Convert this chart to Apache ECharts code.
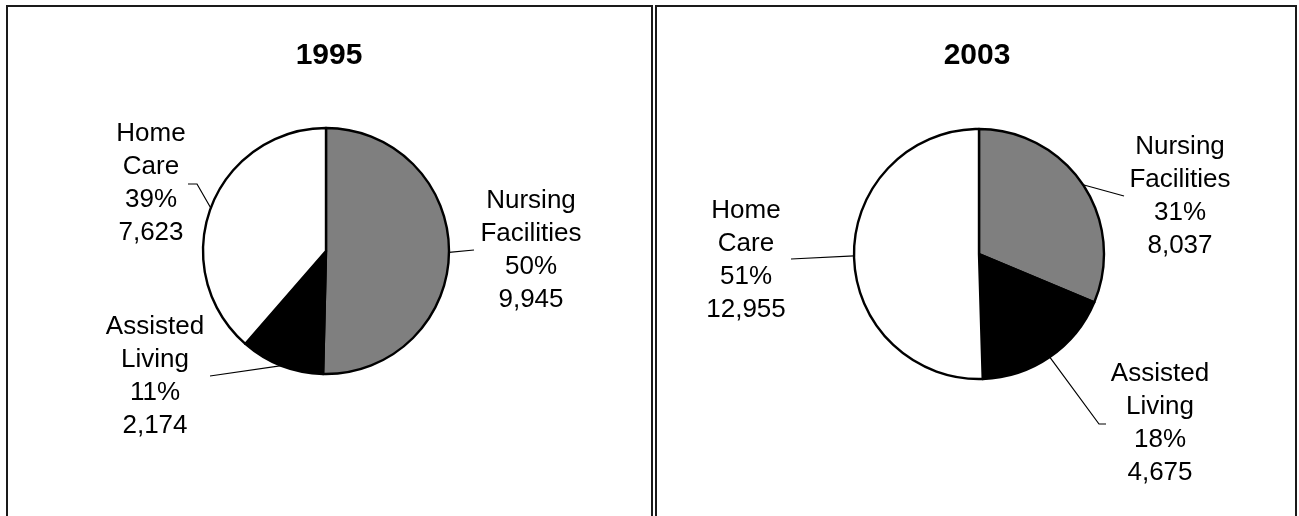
<!DOCTYPE html>
<html>
<head>
<meta charset="utf-8">
<script src="https://cdn.jsdelivr.net/npm/echarts@6/dist/echarts.min.js"></script>
<style>
  html, body { margin: 0; padding: 0; background: #ffffff; }
  #chart { width: 1299px; height: 516px; }
</style>
</head>
<body>
<div id="chart"></div>
<script>
// ---- Data ----
const titles = ['1995', '2003'];
const categories = ['Nursing\nFacilities', 'Assisted\nLiving', 'Home\nCare'];
const values1995 = [9945, 2174, 7623];
const values2003 = [8037, 4675, 12955];
const sliceColors = ['#7f7f7f', '#000000', '#ffffff'];

// ---- Layout (label placement, not data) ----
const labelPlacement = [
  [ // 1995
    { x: 531, y: 250, line: [[474, 250]] },
    { x: 155, y: 376, line: [[210, 376]] },
    { x: 151, y: 183, line: [[197, 184], [188, 184]] }
  ],
  [ // 2003
    { x: 1180, y: 196, line: [[1124, 196]] },
    { x: 1160, y: 423, line: [[1099, 424], [1106, 424]] },
    { x: 746, y: 260, line: [[791, 259]] }
  ]
];

const chart = echarts.init(document.getElementById('chart'));
const fontFamily = '"Liberation Sans", Arial, sans-serif';

function makeSeries(values, center, radius, si) {
  return {
    type: 'pie',
    center: center,
    radius: radius,
    startAngle: 90,
    clockwise: true,
    percentPrecision: 0,
    avoidLabelOverlap: false,
    animation: false,
    silent: true,
    data: categories.map((c, i) => ({
      name: c,
      value: values[i],
      itemStyle: { color: sliceColors[i] }
    })),
    itemStyle: { borderColor: '#000', borderWidth: 2.4 },
    label: {
      show: true,
      position: 'outside',
      color: '#000',
      fontFamily: fontFamily,
      fontSize: 26,
      lineHeight: 33,
      align: 'center',
      formatter: p => p.name + '\n' + p.percent + '%\n' + echarts.format.addCommas(p.value)
    },
    labelLine: {
      show: true,
      length: 10,
      length2: 10,
      lineStyle: { color: '#000', width: 1.2 }
    },
    labelLayout: function (params) {
      const cfg = labelPlacement[si][params.dataIndex];
      const start = params.labelLinePoints ? params.labelLinePoints[0] : null;
      const out = { x: cfg.x, y: cfg.y, align: 'center', verticalAlign: 'middle' };
      if (start) out.labelLinePoints = [start].concat(cfg.line);
      return out;
    }
  };
}

const option = {
  backgroundColor: '#ffffff',
  title: [
    { text: titles[0], left: 324, top: 36, textAlign: 'center',
      textStyle: { fontFamily: fontFamily, fontSize: 30, fontWeight: 'bold', color: '#000' } },
    { text: titles[1], left: 972, top: 36, textAlign: 'center',
      textStyle: { fontFamily: fontFamily, fontSize: 30, fontWeight: 'bold', color: '#000' } }
  ],
  graphic: [
    { type: 'rect', shape: { x: 7, y: 6, width: 645, height: 530 },
      style: { fill: null, stroke: '#1a1a1a', lineWidth: 2 }, silent: true },
    { type: 'rect', shape: { x: 656, y: 6, width: 640, height: 530 },
      style: { fill: null, stroke: '#1a1a1a', lineWidth: 2 }, silent: true }
  ],
  series: [
    makeSeries(values1995, [326, 251], 123, 0),
    makeSeries(values2003, [979, 254], 125, 1)
  ]
};

chart.setOption(option);
</script>
</body>
</html>
